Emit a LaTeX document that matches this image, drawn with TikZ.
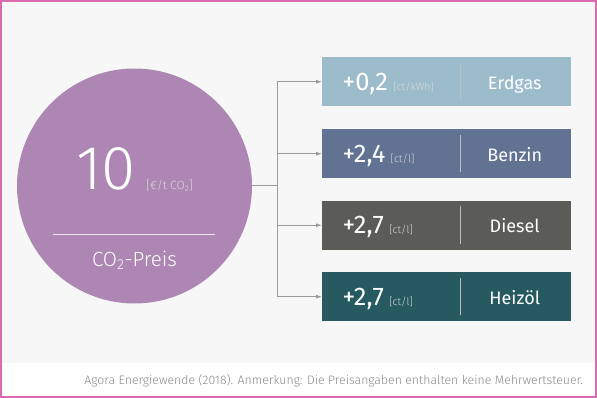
\documentclass[tikz,border=0pt]{standalone}
\usepackage{fontspec}
\setmainfont{Fira Sans}
\newfontfamily\lightf{Fira Sans Light}
\usetikzlibrary{arrows.meta}
\definecolor{bgc}{HTML}{F7F7F7}
\definecolor{pinkc}{HTML}{D96BAE}
\definecolor{circc}{HTML}{AD86B3}
\definecolor{gasc}{HTML}{9DBCCB}
\definecolor{benc}{HTML}{617293}
\definecolor{disc}{HTML}{5B5C55}
\definecolor{heic}{HTML}{275A60}
\definecolor{linec}{HTML}{9A9A9A}
\definecolor{footc}{HTML}{8A8A8A}
\begin{document}
\begin{tikzpicture}[x=1pt,y=-1pt,
  fuelbox/.style={fill=#1,minimum width=249pt,minimum height=49pt,inner sep=0pt,anchor=north west},
  bigval/.style={text=white,font=\fontsize{25.5}{28}\selectfont,anchor=base west,inner sep=0pt},
  unitt/.style={text=white!85!black,font=\lightf\fontsize{10.5}{12}\selectfont,anchor=base west,inner sep=0pt},
  fuelname/.style={text=white,font=\fontsize{18}{20}\selectfont,anchor=base,inner sep=0pt},
  conn/.style={draw=linec,line width=1pt},
  arr/.style={conn,-{Latex[length=6pt,width=4pt]}}]
\useasboundingbox (0,0) rectangle (597,398);
\fill[white] (0,0) rectangle (597,398);
\fill[bgc] (2,2) rectangle (595,363);
\draw[pinkc,line width=2pt] (1,1) rectangle (596,397);
% circle
\node[circle,fill=circc,minimum size=235pt,inner sep=0pt] (circ) at (134.5,186) {};
\node[text=white,font=\lightf\fontsize{62}{64}\selectfont,anchor=base west,inner sep=0pt] (ten) at (76,190) {10};
\node[text=white!85!black,font=\lightf\fontsize{12}{13}\selectfont,anchor=base west,inner sep=0pt] (tunit) at (146,190) {[€/t CO\textsubscript{2}]};
\coordinate (hl) at (53,234);
\coordinate (hr) at (215,234);
\draw[white!80!circc,line width=0.8pt] (hl) -- (hr);
\node[text=white,font=\lightf\fontsize{20.5}{22}\selectfont,anchor=base,inner sep=0pt] (preis) at (134.5,266) {CO\textsubscript{2}-Preis};
% boxes
\node[fuelbox=gasc] (b1) at (322,57) {};
\node[fuelbox=benc] (b2) at (322,129) {};
\node[fuelbox=disc] (b3) at (322,200.5) {};
\node[fuelbox=heic] (b4) at (322,272) {};
\foreach \b/\v/\u/\n in {b1/{+0,2}/{[ct/kWh]}/Erdgas, b2/{+2,4}/{[ct/l]}/Benzin, b3/{+2,7}/{[ct/l]}/Diesel, b4/{+2,7}/{[ct/l]}/Heizöl}{
  \node[bigval] (\b v) at ([xshift=20.5pt,yshift=-8.5pt]\b.west) {\v};
  \node[unitt] (\b u) at ([xshift=5pt]\b v.base east) {\u};
  \node[fuelname] (\b n) at ([xshift=68pt,yshift=-7.5pt]\b.center) {\n};
  \draw[white!75!black,line width=0.8pt] ([xshift=138pt,yshift=6pt]\b.south west) -- ([xshift=138pt,yshift=-6pt]\b.north west);
}
% connectors
\coordinate (j) at (277,186);
\draw[conn] (circ.east) -- (j);
\draw[conn] (j |- b1.west) -- (j |- b4.west);
\foreach \b in {b1,b2,b3,b4}{
  \draw[arr] (j |- \b.west) -- (\b.west);
}
\node[text=footc,font=\lightf\fontsize{12.3}{14}\selectfont,anchor=base east,inner sep=0pt] (foot) at (583,384) {Agora Energiewende (2018). Anmerkung: Die Preisangaben enthalten keine Mehrwertsteuer.};
\end{tikzpicture}
\end{document}
